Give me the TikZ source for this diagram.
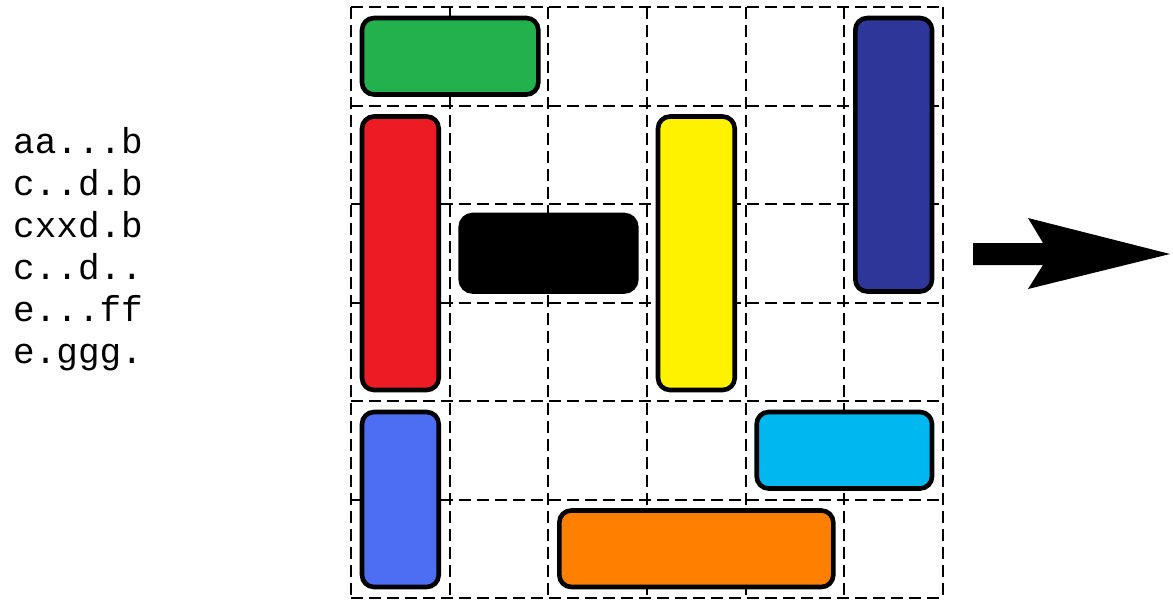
\documentclass[tikz,border=0pt]{standalone}
\usepackage{fontspec}
\setmonofont{Liberation Mono}
\definecolor{pgreen}{HTML}{22B14C}
\definecolor{pnavy}{HTML}{2F3699}
\definecolor{pred}{HTML}{ED1C24}
\definecolor{pyellow}{HTML}{FFF200}
\definecolor{pcyan}{HTML}{00B7EF}
\definecolor{pblue}{HTML}{4D6DF3}
\definecolor{porange}{HTML}{FF7F00}
\tikzset{
  piece/.style={draw=black, line width=4.6pt, rounded corners=12pt},
  cell/.style={draw=black, line width=2pt, dash pattern=on 12pt off 6pt},
  code/.style={font=\ttfamily\fontsize{36}{42}\selectfont, inner sep=0pt, anchor=base west},
  bigarrow/.style={fill=black}
}
\begin{document}
\begin{tikzpicture}[x=1pt,y=-1pt]
\useasboundingbox (0,0) rectangle (1173,600);
% grid lines
\foreach \i in {0,...,6}{
  \draw[cell] ({351+98.667*\i},7) -- ({351+98.667*\i},598);
  \draw[cell] (351,{7+98.5*\i}) -- (943,{7+98.5*\i});
}
% pieces
\draw[piece, fill=pgreen]  (362,18) rectangle (538.3,94.5);
\draw[piece, fill=pnavy]   (855.3,18) rectangle (932,291.5);
\draw[piece, fill=pred]    (362,116.5) rectangle (438.7,390);
\draw[piece, fill=pyellow] (658,116.5) rectangle (734.7,390);
\draw[piece, fill=black]   (460.7,215) rectangle (636.3,291.5);
\draw[piece, fill=pcyan]   (756.7,412) rectangle (932,488.5);
\draw[piece, fill=pblue]   (362,412) rectangle (438.7,587);
\draw[piece, fill=porange] (559.3,510.5) rectangle (833.3,587);
% text
\node[code] (t1) at (13,153) {aa...b};
\node[code] (t2) at (13,195) {c..d.b};
\node[code] (t3) at (13,237) {cxxd.b};
\node[code] (t4) at (13,279) {c..d..};
\node[code] (t5) at (13,321) {e...ff};
\node[code] (t6) at (13,363) {e.ggg.};
% arrow
\fill[bigarrow] (973,243) -- (1043,243) -- (1028,218) -- (1170,254) -- (1028,289) -- (1043,265) -- (973,265) -- cycle;
\end{tikzpicture}
\end{document}
